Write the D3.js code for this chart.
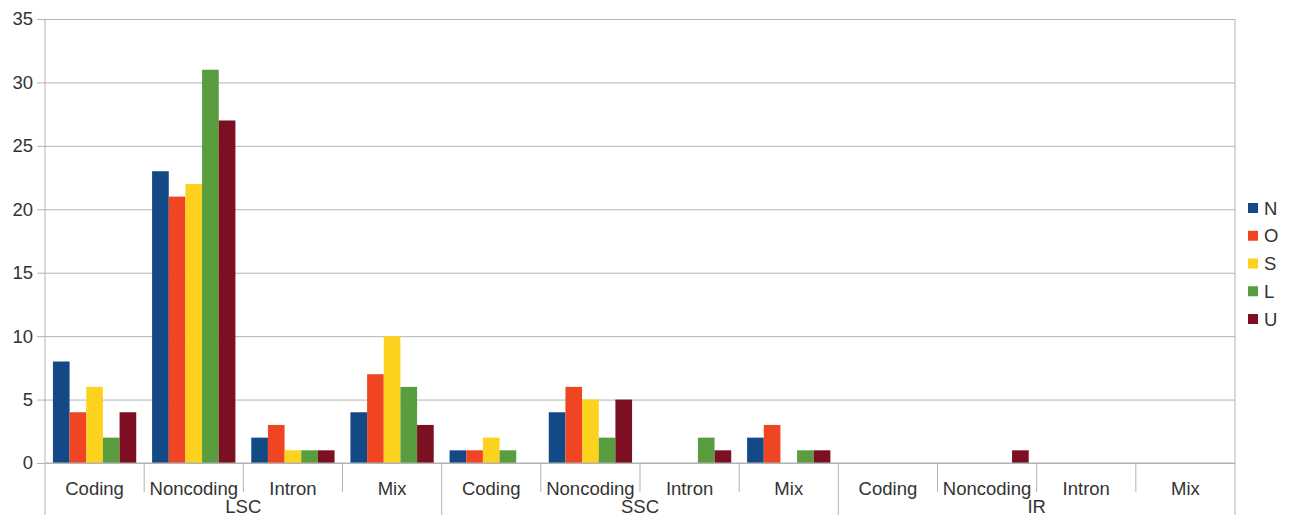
<!DOCTYPE html>
<html><head><meta charset="utf-8">
<script src="https://d3js.org/d3.v7.min.js"></script>
<style>body{margin:0;background:#fff}svg{display:block}</style>
</head><body><div id="c"></div>
<script>
const groups = ["LSC","SSC","IR"];
const categories = ["Coding","Noncoding","Intron","Mix"];
const seriesNames = ["N","O","S","L","U"];
const colors = ["#134a85","#ef4522","#fcd21e","#599d3e","#7c1022"];
const N = [8,23,2,4, 1,4,0,2, 0,0,0,0];
const O = [4,21,3,7, 1,6,0,3, 0,0,0,0];
const S = [6,22,1,10, 2,5,0,0, 0,0,0,0];
const L = [2,31,1,6, 1,2,2,1, 0,0,0,0];
const U = [4,27,1,3, 0,5,1,1, 0,1,0,0];
const yTicks = [0,5,10,15,20,25,30,35];

const series = [N,O,S,L,U];
const W=1292,H=517;
const pLeft=45,pRight=1235,pTop=19,pBottom=463;
const svg=d3.select("#c").append("svg").attr("width",W).attr("height",H);
const keys=[];
groups.forEach(g=>categories.forEach(c=>keys.push(g+"|"+c)));
const x=d3.scaleBand().domain(keys).range([pLeft,pRight]).paddingInner(0.16).paddingOuter(0.08);
const xc=d3.scaleBand().domain(keys).range([pLeft,pRight]);
const y=d3.scaleLinear().domain([0,35]).range([pBottom,pTop]);
const xs=d3.scaleBand().domain(seriesNames).range([0,x.bandwidth()]);
const font="Liberation Sans, Arial, sans-serif";
const fs=18.5;
const txt="#333";
const grid="#b3b3b3";

const ya=svg.append("g").attr("transform",`translate(${pLeft},0)`)
  .call(d3.axisLeft(y).tickValues(yTicks).tickSize(8).tickPadding(4));
ya.select(".domain").remove();
ya.selectAll(".tick line").attr("stroke",grid).attr("x2",pRight-pLeft).attr("x1",-8);
ya.selectAll(".tick text").attr("font-family",font).attr("font-size",fs).attr("fill",txt);
svg.append("line").attr("x1",pRight).attr("x2",pRight).attr("y1",pTop).attr("y2",pBottom).attr("stroke",grid);

seriesNames.forEach((s,si)=>{
  svg.append("g").selectAll("rect").data(series[si]).join("rect")
    .attr("x",(d,i)=>x(keys[i])+xs(s))
    .attr("width",xs.bandwidth())
    .attr("y",d=>y(d))
    .attr("height",d=>pBottom-y(d))
    .attr("fill",colors[si]);
});

svg.append("line").attr("x1",pLeft).attr("x2",pLeft).attr("y1",pTop).attr("y2",515).attr("stroke",grid);
svg.append("line").attr("x1",pLeft).attr("x2",pRight).attr("y1",pBottom).attr("y2",pBottom).attr("stroke",grid);
keys.forEach((k,i)=>{
  if(i===0) return;
  const isGroup = i%categories.length===0;
  svg.append("line").attr("x1",xc(k)).attr("x2",xc(k)).attr("y1",pBottom).attr("y2",isGroup?515:492).attr("stroke",grid);
});
svg.append("line").attr("x1",pRight).attr("x2",pRight).attr("y1",pBottom).attr("y2",515).attr("stroke",grid);

svg.append("g").selectAll("text").data(keys).join("text")
  .attr("x",k=>xc(k)+xc.bandwidth()/2).attr("y",495)
  .attr("text-anchor","middle").attr("font-family",font).attr("font-size",fs).attr("fill",txt)
  .text(k=>k.split("|")[1]);
const gw=(pRight-pLeft)/groups.length;
svg.append("g").selectAll("text").data(groups).join("text")
  .attr("x",(g,i)=>pLeft+gw*i+gw/2).attr("y",513)
  .attr("text-anchor","middle").attr("font-family",font).attr("font-size",fs).attr("fill",txt)
  .text(g=>g);

const lg=svg.append("g");
seriesNames.forEach((s,i)=>{
  const cy=208+i*27.75;
  lg.append("rect").attr("x",1248).attr("y",cy-5).attr("width",10).attr("height",10).attr("fill",colors[i]);
  lg.append("text").attr("x",1264).attr("y",cy+6.5).attr("font-family",font).attr("font-size",fs).attr("fill",txt).text(s);
});
</script></body></html>
